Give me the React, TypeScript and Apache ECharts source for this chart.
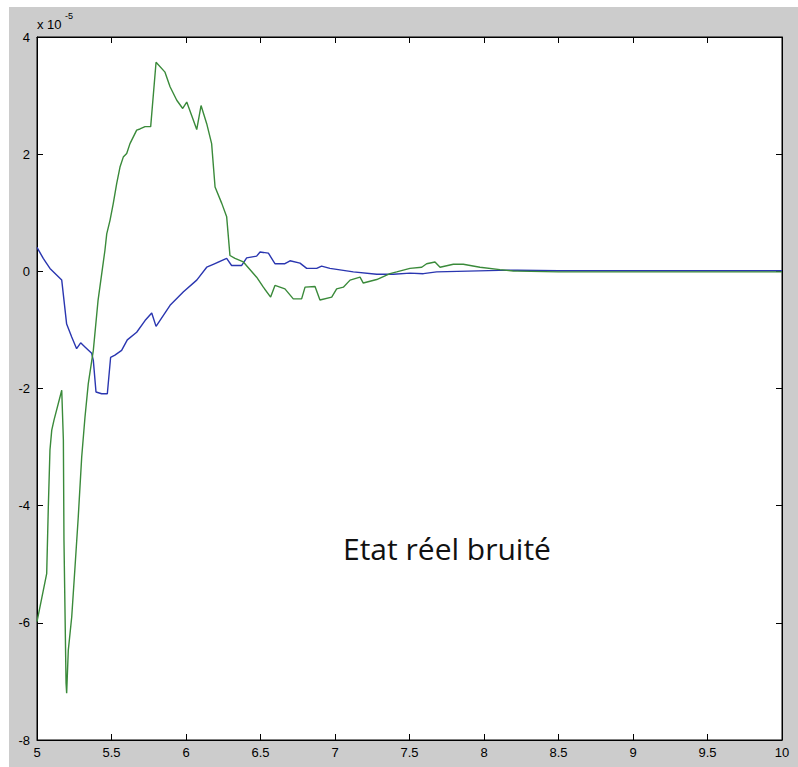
import React, { useEffect, useRef } from "react";
import * as echarts from "echarts";

// values in units of 1e-5
const blueX = [5.0, 5.042, 5.087, 5.166, 5.199, 5.233, 5.266, 5.293, 5.322, 5.367, 5.378, 5.396, 5.434, 5.472, 5.494, 5.523, 5.568, 5.606, 5.669, 5.725, 5.77, 5.799, 5.893, 5.983, 6.072, 6.139, 6.183, 6.273, 6.306, 6.374, 6.407, 6.474, 6.497, 6.553, 6.597, 6.664, 6.698, 6.765, 6.81, 6.877, 6.91, 6.966, 7.123, 7.28, 7.392, 7.503, 7.593, 7.682, 8.17, 8.5, 9.0, 9.5, 10];
const blueY = [0.41, 0.22, 0.05, -0.15, -0.9, -1.12, -1.32, -1.22, -1.29, -1.40, -1.52, -2.06, -2.09, -2.09, -1.47, -1.43, -1.35, -1.17, -1.04, -0.84, -0.71, -0.94, -0.58, -0.35, -0.15, 0.07, 0.12, 0.22, 0.10, 0.10, 0.23, 0.26, 0.33, 0.31, 0.13, 0.13, 0.18, 0.14, 0.05, 0.05, 0.09, 0.05, -0.01, -0.05, -0.05, -0.03, -0.04, -0.01, 0.02, 0.01, 0.01, 0.01, 0.01];

const greenX = [5.0, 5.065, 5.076, 5.087, 5.099, 5.114, 5.166, 5.177, 5.181, 5.195, 5.199, 5.21, 5.233, 5.255, 5.277, 5.3, 5.322, 5.344, 5.378, 5.41, 5.456, 5.468, 5.49, 5.512, 5.535, 5.557, 5.579, 5.602, 5.624, 5.669, 5.691, 5.725, 5.763, 5.799, 5.859, 5.893, 5.938, 5.978, 6.005, 6.038, 6.072, 6.101, 6.139, 6.172, 6.195, 6.24, 6.273, 6.295, 6.329, 6.385, 6.474, 6.519, 6.568, 6.597, 6.664, 6.72, 6.776, 6.799, 6.866, 6.899, 6.978, 7.011, 7.056, 7.101, 7.168, 7.19, 7.28, 7.369, 7.414, 7.503, 7.582, 7.615, 7.671, 7.705, 7.794, 7.861, 7.973, 8.107, 8.197, 8.5, 9.0, 9.5, 10];
const greenY = [-5.98, -5.16, -4.02, -3.05, -2.71, -2.54, -2.03, -2.88, -4.59, -7.03, -7.2, -6.47, -5.9, -5.05, -4.19, -3.17, -2.49, -1.92, -1.35, -0.49, 0.36, 0.64, 0.87, 1.16, 1.50, 1.78, 1.95, 2.01, 2.18, 2.41, 2.43, 2.47, 2.47, 3.57, 3.40, 3.15, 2.92, 2.78, 2.89, 2.66, 2.42, 2.83, 2.52, 2.18, 1.44, 1.16, 0.93, 0.27, 0.22, 0.16, -0.10, -0.27, -0.44, -0.24, -0.30, -0.47, -0.47, -0.27, -0.26, -0.49, -0.44, -0.30, -0.27, -0.15, -0.10, -0.20, -0.14, -0.04, -0.01, 0.05, 0.07, 0.13, 0.16, 0.07, 0.12, 0.12, 0.07, 0.03, 0.005, -0.01, -0.01, -0.01, -0.01];

const xMin = 5, xMax = 10, xStep = 0.5;
const yMin = -8, yMax = 4, yStep = 2;
const annotation = "Etat réel bruité";
const exponentBase = "x 10";
const exponent = "-5";

const zip = (xs: number[], ys: number[]) => xs.map((x, i) => [x, ys[i]]);

export default function App() {
  const ref = useRef<HTMLDivElement>(null);
  useEffect(() => {
    if (!ref.current) return;
    const chart = echarts.init(ref.current, null, { renderer: "svg" });
    const labelFont = { fontFamily: "Liberation Sans", fontSize: 13, color: "#000" };
    const axisCommon = {
      axisLine: { show: true, onZero: false, lineStyle: { color: "#000", width: 1 } },
      axisTick: { show: true, inside: true, length: 6, lineStyle: { color: "#000" } },
      splitLine: { show: false },
    };
    chart.setOption({
      animation: false,
      backgroundColor: "#cccccc",
      grid: {
        left: 28, top: 30, right: 16, bottom: 27,
        show: true, backgroundColor: "#ffffff", borderColor: "#000", borderWidth: 1,
      },
      xAxis: [
        {
          type: "value", min: xMin, max: xMax, interval: xStep, position: "bottom",
          ...axisCommon,
          axisLabel: { ...labelFont, margin: 6, formatter: (v: number) => String(v) },
        },
        {
          type: "value", min: xMin, max: xMax, interval: xStep, position: "top",
          ...axisCommon, axisLabel: { show: false },
        },
      ],
      yAxis: [
        {
          type: "value", min: yMin, max: yMax, interval: yStep, position: "left",
          ...axisCommon,
          axisLabel: { ...labelFont, margin: 7 },
        },
        {
          type: "value", min: yMin, max: yMax, interval: yStep, position: "right",
          ...axisCommon, axisLabel: { show: false },
        },
      ],
      series: [
        {
          type: "line", xAxisIndex: 0, yAxisIndex: 0, data: zip(blueX, blueY),
          showSymbol: false, symbol: "none", lineStyle: { color: "#2a36b0", width: 1.4 },
        },
        {
          type: "line", xAxisIndex: 0, yAxisIndex: 0, data: zip(greenX, greenY),
          showSymbol: false, symbol: "none", lineStyle: { color: "#3a8a3a", width: 1.4 },
        },
      ],
      graphic: [
        {
          type: "text", left: 28, top: 11,
          style: { text: exponentBase, fontFamily: "Liberation Sans", fontSize: 13, fill: "#000" },
        },
        {
          type: "text", left: 56, top: 4,
          style: { text: exponent, fontFamily: "Liberation Sans", fontSize: 9, fill: "#000" },
        },
        {
          type: "text", left: 334, top: 526,
          style: { text: annotation, fontFamily: "Open Sans", fontSize: 30, fill: "#111" },
        },
      ],
    });
    return () => chart.dispose();
  }, []);
  return (
    <div
      ref={ref}
      style={{ position: "fixed", left: 9, top: 7, width: 789, height: 760 }}
    />
  );
}
